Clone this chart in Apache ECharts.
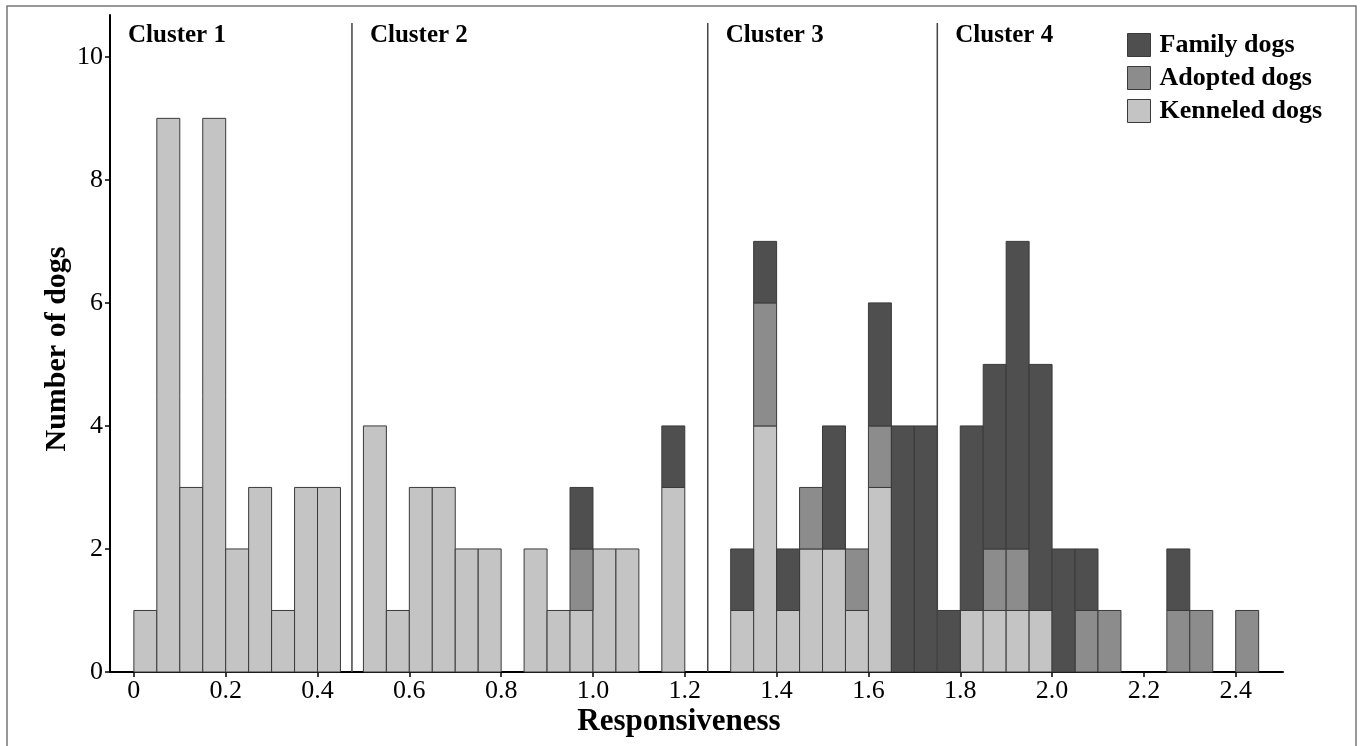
<!DOCTYPE html>
<html>
<head>
<meta charset="utf-8">
<script src="https://cdn.jsdelivr.net/npm/echarts@6/dist/echarts.min.js"></script>
<style>
html,body{margin:0;padding:0;background:#fff;}
#chart{width:1363px;height:746px;}
</style>
</head>
<body>
<div id="chart"></div>
<script>
// Bin left edges (bin width 0.05)
var binStarts = [0,0.05,0.1,0.15,0.2,0.25,0.3,0.35,0.4,0.45,0.5,0.55,0.6,0.65,0.7,0.75,0.8,0.85,0.9,0.95,
  1.0,1.05,1.1,1.15,1.2,1.25,1.3,1.35,1.4,1.45,1.5,1.55,1.6,1.65,1.7,1.75,1.8,1.85,1.9,1.95,
  2.0,2.05,2.1,2.15,2.2,2.25,2.3,2.35,2.4];
var binWidth = 0.05;
var kenneled = [1,9,3,9,2,3,1,3,3,0, 4,1,3,3,2,2,0,2,1,1, 2,2,0,3,0,0,1,4,1,2, 2,1,3,0,0,0,1,1,1,1, 0,0,0,0,0,0,0,0,0];
var adopted  = [0,0,0,0,0,0,0,0,0,0, 0,0,0,0,0,0,0,0,0,1, 0,0,0,0,0,0,0,2,0,1, 0,1,1,0,0,0,0,1,1,0, 0,1,1,0,0,1,1,0,1];
var family   = [0,0,0,0,0,0,0,0,0,0, 0,0,0,0,0,0,0,0,0,1, 0,0,0,1,0,0,1,1,1,0, 2,0,2,4,4,1,3,3,5,4, 2,1,0,0,0,1,0,0,0];
var clusterBounds = [0.475, 1.25, 1.75];
var clusterLabelStarts = [-0.052, 0.475, 1.25, 1.75];
var clusterNames = ['Cluster 1','Cluster 2','Cluster 3','Cluster 4'];
var xTicks = [0,0.2,0.4,0.6,0.8,1.0,1.2,1.4,1.6,1.8,2.0,2.2,2.4];
var yTicks = [0,2,4,6,8,10];

var COLORS = {family:'#4f4f4f', adopted:'#8c8c8c', kenneled:'#c4c4c4'};
var FONT = '"Liberation Serif","DejaVu Serif",serif';

function segments(vals, bases) {
  var out = [];
  for (var i = 0; i < binStarts.length; i++) {
    if (vals[i] > 0) {
      var b = bases ? bases(i) : 0;
      out.push([binStarts[i], binStarts[i] + binWidth, b, b + vals[i]]);
    }
  }
  return out;
}
function rectRender(color) {
  return function (params, api) {
    var p0 = api.coord([api.value(0), api.value(2)]);
    var p1 = api.coord([api.value(1), api.value(3)]);
    return {
      type: 'rect',
      shape: {x: p0[0], y: p1[1], width: p1[0] - p0[0], height: p0[1] - p1[1]},
      style: {fill: color, stroke: '#3a3a3a', lineWidth: 1}
    };
  };
}

var chart = echarts.init(document.getElementById('chart'), null, {renderer: 'canvas'});
var option = {
  animation: false,
  backgroundColor: '#fff',
  grid: {left: 110, right: 80, top: 15, bottom: 74, containLabel: false},
  xAxis: {
    type: 'value', min: -0.052, max: 2.503,
    axisLine: {show: true, onZero: false, lineStyle: {color: '#000', width: 2}},
    axisTick: {show: true, length: 5, lineStyle: {color: '#000', width: 1.5}, customValues: xTicks},
    axisLabel: {
      customValues: xTicks, margin: 6, color: '#000', fontFamily: FONT, fontSize: 26,
      formatter: function (v) { return v === 0 ? '0' : v.toFixed(1); }
    },
    splitLine: {show: false}
  },
  yAxis: {
    type: 'value', min: 0, max: 10.68,
    axisLine: {show: true, onZero: false, lineStyle: {color: '#000', width: 2}},
    axisTick: {show: true, length: 5, lineStyle: {color: '#000', width: 1.5}, customValues: yTicks},
    axisLabel: {customValues: yTicks, margin: 7, color: '#000', fontFamily: FONT, fontSize: 26},
    splitLine: {show: false}
  },
  legend: {
    orient: 'vertical', left: 1127, top: 32, padding: 0, itemWidth: 23, itemHeight: 23, itemGap: 7,
    icon: 'rect',
    data: ['Family dogs', 'Adopted dogs', 'Kenneled dogs'],
    itemStyle: {borderColor: '#3a3a3a', borderWidth: 1},
    textStyle: {fontFamily: FONT, fontSize: 26, fontWeight: 'bold', color: '#000', padding: [0, 0, 0, 4]}
  },
  series: [
    {
      name: 'Kenneled dogs', type: 'custom', itemStyle: {color: COLORS.kenneled},
      renderItem: rectRender(COLORS.kenneled), encode: {x: [0, 1], y: [2, 3]},
      data: segments(kenneled)
    },
    {
      name: 'Adopted dogs', type: 'custom', itemStyle: {color: COLORS.adopted},
      renderItem: rectRender(COLORS.adopted), encode: {x: [0, 1], y: [2, 3]},
      data: segments(adopted, function (i) { return kenneled[i]; })
    },
    {
      name: 'Family dogs', type: 'custom', itemStyle: {color: COLORS.family},
      renderItem: rectRender(COLORS.family), encode: {x: [0, 1], y: [2, 3]},
      data: segments(family, function (i) { return kenneled[i] + adopted[i]; })
    },
    {
      name: 'boundaries', type: 'custom', silent: true,
      renderItem: function (params, api) {
        var p0 = api.coord([api.value(0), 0]);
        var p1 = api.coord([api.value(0), 10.55]);
        return {type: 'line', shape: {x1: p0[0], y1: p0[1], x2: p1[0], y2: p1[1]},
          style: {stroke: '#444', lineWidth: 1.5}};
      },
      data: clusterBounds.map(function (b) { return [b]; })
    },
    {
      name: 'clusterLabels', type: 'custom', silent: true,
      renderItem: function (params, api) {
        var p = api.coord([api.value(0), 10.35]);
        return {type: 'text', x: p[0] + 18, y: p[1],
          style: {text: clusterNames[params.dataIndex], fill: '#000', font: 'bold 25px ' + FONT,
            textAlign: 'left', textVerticalAlign: 'middle'}};
      },
      data: clusterLabelStarts.map(function (b) { return [b]; })
    }
  ],
  graphic: [
    {type: 'rect', shape: {x: 7, y: 6, width: 1349, height: 800},
      style: {fill: 'none', stroke: '#777', lineWidth: 1.5}, silent: true, z: -1},
    {type: 'text', x: 679, y: 722,
      style: {text: 'Responsiveness', fill: '#000', font: 'bold 31px ' + FONT, textAlign: 'center', textVerticalAlign: 'middle'}},
    {type: 'text', x: 57, y: 349, rotation: Math.PI / 2,
      style: {text: 'Number of dogs', fill: '#000', font: 'bold 30px ' + FONT, textAlign: 'center', textVerticalAlign: 'middle'}}
  ]
};
chart.setOption(option);
</script>
</body>
</html>
